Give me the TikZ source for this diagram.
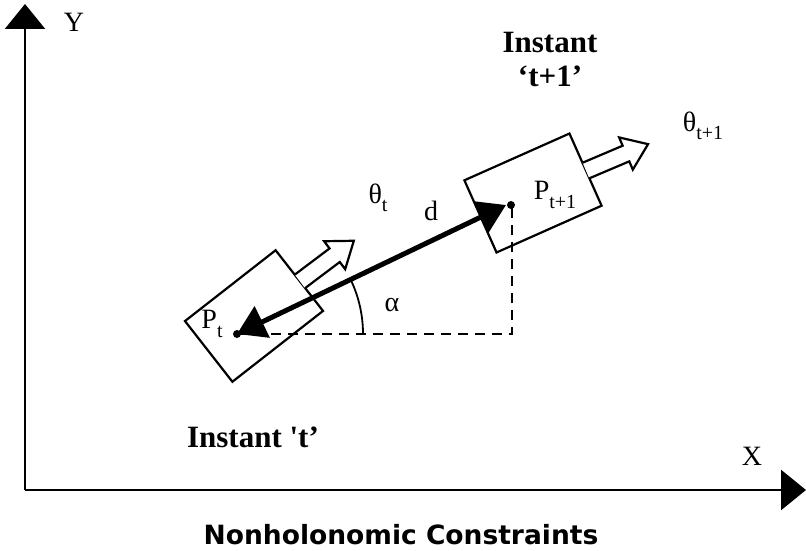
\documentclass[tikz,border=0pt]{standalone}
\usepackage{fontspec}
\setmainfont{Liberation Serif}
\newfontfamily\titlefont{DejaVu Sans}
\usetikzlibrary{arrows.meta}
\newcommand\lowidx[1]{\raisebox{-0.3em}{\fontsize{20}{20}\selectfont #1}}
\newcommand\straightquote{\XeTeXglyph\XeTeXglyphindex "quotesingle"\relax}
\begin{document}
\begin{tikzpicture}[x=1pt,y=1pt,
  lbl/.style={inner sep=0pt, font=\fontsize{28}{30}\selectfont},
  instant/.style={inner sep=0pt, align=center, font=\bfseries\fontsize{31}{34}\selectfont},
  axis/.style={line width=2.6pt, -{Triangle[length=25pt,width=40pt]}},
  body/.style={draw, line width=2.2pt, inner sep=0pt},
  hollow/.style={line width=2.2pt, line join=miter, fill=white},
  motion/.style={line width=5pt, {Triangle[length=28pt,width=34pt]}-{Triangle[length=28pt,width=34pt]}},
  guide/.style={line width=2.2pt, dash pattern=on 10pt off 7pt},
  dotmark/.style={circle, fill=black, inner sep=0pt, minimum size=8pt}
]
\useasboundingbox (0,0) rectangle (806,550);

% axes
\coordinate (O) at (25,60);
\coordinate (Xend) at (806,60);
\coordinate (Yend) at (25,546);
\draw[axis] (O) -- (Xend);
\draw[axis] (O) -- (Yend);
\node[lbl] (ylab) at (74,528) {Y};
\node[lbl] (xlab) at (752,94) {X};

% body at instant t
\node[body, minimum width=115pt, minimum height=77pt, rotate=38] (r1) at (254,234) {};
\begin{scope}[shift={(r1.center)}, rotate=37]
  \draw[hollow] (57.5,-8.5) -- (101,-8.5) -- (101,-17.5) -- (125,0) -- (101,17.5) -- (101,8.5) -- (57.5,8.5);
\end{scope}

% body at instant t+1
\node[body, minimum width=115pt, minimum height=79pt, rotate=24] (r2) at (533,357) {};
\begin{scope}[shift={(r2.center)}, rotate=23]
  \draw[hollow] (57.5,-8.5) -- (101,-8.5) -- (101,-17.5) -- (125,0) -- (101,17.5) -- (101,8.5) -- (57.5,8.5);
\end{scope}

% points
\node[dotmark] (Pt) at (237,216) {};
\node[dotmark] (Pt1) at (511,345) {};
\coordinate (C) at (512,216);

% dashed guides
\draw[guide] (Pt.center) -- (C) -- ([xshift=1pt]Pt1.center);

% angle arc
\draw[line width=1.8pt] ([xshift=126pt]Pt.center) arc[start angle=0, end angle=25, radius=126pt];

% displacement
\draw[motion] (Pt.center) -- ([xshift=-5pt]Pt1.center);

% labels
\node[lbl] (thetat) at (378,352) {θ\lowidx{t}};
\node[lbl] (dlab) at (431,339) {d};
\node[lbl] (ptlab) at (212,226) {P\lowidx{t}};
\node[lbl] (pt1lab) at (555,355) {P\lowidx{t+1}};
\node[lbl] (theta1) at (703,424) {θ\lowidx{t+1}};
\node[lbl] (alpha) at (392,245) {α};
\node[instant] (inst) at (253,113) {Instant \straightquote t’};
\node[instant] (inst1) at (550,490) {Instant\\‘t+1’};

\node[inner sep=0pt, font=\titlefont\bfseries\fontsize{26.5}{28}\selectfont] (title) at (401,15) {Nonholonomic Constraints};
\end{tikzpicture}
\end{document}
